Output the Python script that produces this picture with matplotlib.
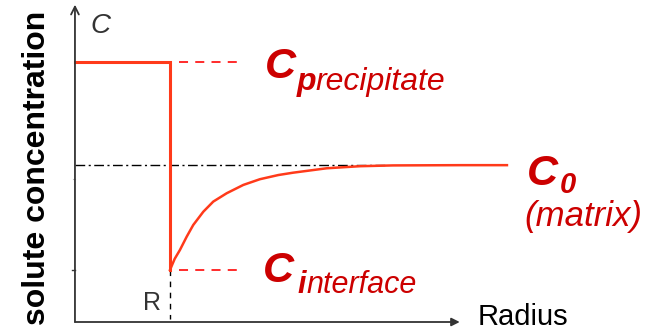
import matplotlib
matplotlib.use("Agg")
import matplotlib.pyplot as plt

# ==============================
# DATA (r in units of R, c in units of C_precipitate)
# ==============================

R = 1.0
C_PRECIP = 1.0
C_ZERO = 0.603
C_INTERF = 0.2

# concentration profile in the matrix, r >= R
r_matrix = [1.0, 1.05, 1.105, 1.176, 1.245, 1.351, 1.456, 1.597, 1.772, 1.947,
            2.14, 2.295, 2.649, 3.0, 3.347, 4.053, 4.547]
c_matrix = [0.2, 0.243, 0.277, 0.328, 0.373, 0.424, 0.463, 0.495, 0.527, 0.549,
            0.565, 0.574, 0.591, 0.599, 0.602, 0.603, 0.603]

# inside the precipitate, 0 <= r <= R
r_precip = [0.0, R, R]
c_precip = [C_PRECIP, C_PRECIP, C_INTERF]

R_AXIS_END = 4.05
C_AXIS_END = 1.22

# ==============================
# FIGURE
# ==============================

plt.rcParams["font.family"] = ["Liberation Sans", "DejaVu Sans"]

RED_LINE = "#ff3a1a"
RED_DASH = "#ff1a1a"
RED_TEXT = "#cc0000"
GREY = "#333333"

fig = plt.figure(figsize=(6.6, 3.31), dpi=100)
ax = fig.add_axes([0, 0, 1, 1])
ax.set_xlim(-0.789, 6.158)
ax.set_ylim(-0.0346, 1.238)
ax.axis("off")

# axes with arrows
ax.annotate("", xy=(0, C_AXIS_END), xytext=(0, 0),
            arrowprops=dict(arrowstyle="->", color=GREY, lw=1.3,
                            shrinkA=0, shrinkB=0, mutation_scale=14))
ax.annotate("", xy=(R_AXIS_END, 0), xytext=(0, 0),
            arrowprops=dict(arrowstyle="-|>", color=GREY, lw=1.3,
                            shrinkA=0, shrinkB=0, mutation_scale=12))

# small ticks on the c axis
ax.plot([-0.03, 0.0], [C_INTERF, C_INTERF], color=GREY, lw=1.0)
ax.plot([-0.02, 0.0], [0.55, 0.55], color="#bbbbbb", lw=0.8)

# C0 reference line
ax.plot([0, 3.3], [C_ZERO, C_ZERO], color="black", lw=1.0,
        dashes=(7, 2.5, 1.5, 2.5))

# guides to the labels
ax.plot([1.1, 1.78], [C_PRECIP, C_PRECIP], color=RED_DASH, lw=1.3, dashes=(5, 4))
ax.plot([1.1, 1.78], [C_INTERF, C_INTERF], color=RED_DASH, lw=1.3, dashes=(5, 4))
ax.plot([R, R], [C_INTERF, 0.01], color="black", lw=1.0, dashes=(4, 4))

# profile
ax.plot(r_precip, c_precip, color=RED_LINE, lw=2.2, solid_joinstyle="miter")
ax.plot(r_matrix, c_matrix, color=RED_LINE, lw=1.8, solid_joinstyle="round")

# labels
ax.text(0.158, 1.112, "C", style="italic", fontsize=20, color=GREY, va="baseline")
ax.text(-0.4, 0.592, "solute concentration", rotation=90, fontsize=23,
        fontweight="bold", ha="center", va="center", color="black")
ax.text(4.242, -0.012, "Radius", fontsize=21, color="black", va="baseline")
ax.text(0.716, 0.046, "R", fontsize=18, color=GREY, va="baseline")

big = dict(style="italic", fontweight="bold", color=RED_TEXT, va="baseline")
sub = dict(style="italic", color=RED_TEXT, va="baseline")

ax.text(2.0, 0.938, "C", fontsize=31, **big)
ax.text(2.33, 0.892, "p", fontsize=23, **big)
ax.text(2.527, 0.892, "recipitate", fontsize=23, **sub)

ax.text(1.979, 0.154, "C", fontsize=31, **big)
ax.text(2.347, 0.112, "i", fontsize=22, **big)
ax.text(2.44, 0.112, "nterface", fontsize=22, **sub)

ax.text(4.758, 0.527, "C", fontsize=31, **big)
ax.text(5.105, 0.496, "0", fontsize=21, **big)
ax.text(4.726, 0.369, "(matrix)", fontsize=25, **sub)

fig.savefig("out.png", dpi=100)
